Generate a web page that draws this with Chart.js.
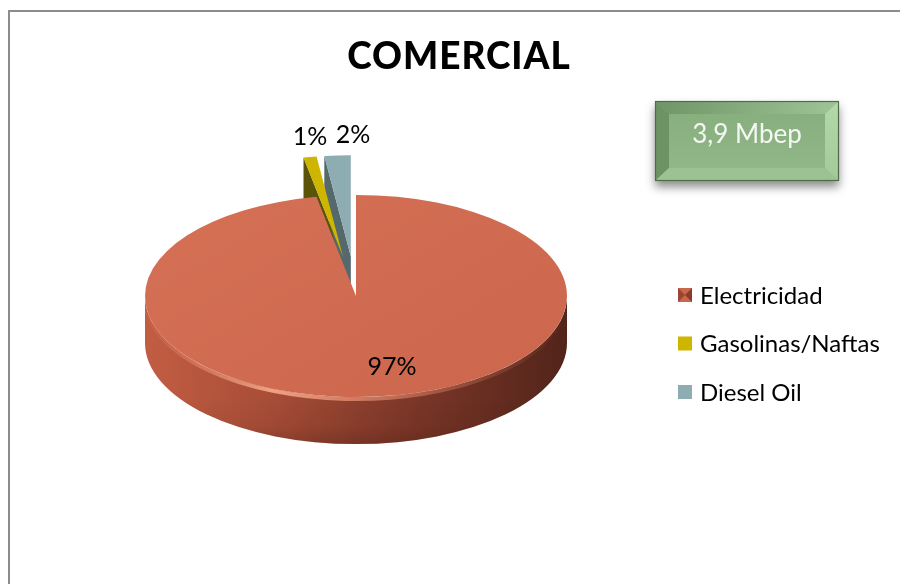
<!DOCTYPE html>
<html>
<head>
<meta charset="utf-8">
<script src="https://cdn.jsdelivr.net/npm/chart.js@4.4.1/dist/chart.umd.min.js"></script>
<style>
  html, body { margin: 0; padding: 0; background: #ffffff; overflow: hidden; width: 900px; height: 584px; }
  #wrap { width: 900px; height: 584px; position: relative; overflow: hidden; }
  #frame { position: absolute; left: 8px; top: 10px; width: 1000px; height: 1000px;
           border-left: 2px solid #8c8c8c; border-top: 2px solid #8c8c8c; pointer-events: none; }
  #c { position: absolute; left: 0; top: 0; }
</style>
</head>
<body>
<div id="wrap"><canvas id="c" width="900" height="584"></canvas><div id="frame"></div></div>
<script>
// Consumo comercial por fuente
const chartTitle = 'COMERCIAL';
const totalLabel = '3,9 Mbep';
const categories = ['Electricidad', 'Gasolinas/Naftas', 'Diesel Oil'];
const shares = [97, 1, 2];
const topColors = ['#d06a50', '#cdb500', '#8eadb2'];
const faceColors = ['#7a3424', '#5b5309', '#55696d'];
const explodeBy = [0, 83, 83];

// Tilted-disc look
const TILT = 0.479;
const DEPTH = 47;
const FONT = 'Lato, "Open Sans", sans-serif';

// Centre, radius and angles of a slice once it is pulled out of the disc
function arcGeometry(arc, i) {
  const e = explodeBy[i] || 0;
  const half = (arc.startAngle + arc.endAngle) / 2;
  return {
    dx: Math.cos(half) * e, dy: Math.sin(half) * e,
    cx: arc.x + Math.cos(half) * e,
    cy: arc.y + Math.sin(half) * e,
    r: arc.outerRadius,
    a0: arc.startAngle, a1: arc.endAngle, half, offset: e
  };
}

function toScreen(x, y, pivotY) {
  return { x, y: pivotY + (y - pivotY) * TILT };
}

function drawLabels(chart) {
  const ctx = chart.ctx;
  const meta = chart.getDatasetMeta(0);
  const pivotY = meta.data[0].y;
  const total = shares.reduce((a, b) => a + b, 0);
  ctx.save();
  ctx.font = '25px ' + FONT;
  ctx.fillStyle = '#000000';
  ctx.textAlign = 'center';
  ctx.textBaseline = 'alphabetic';
  const outside = [];
  meta.data.forEach((arc, i) => {
    const g = arcGeometry(arc, i);
    const text = Math.round(shares[i] / total * 100) + '%';
    if (g.offset > 0) {
      const p = toScreen(g.cx + g.r * Math.cos(g.half), g.cy + g.r * Math.sin(g.half), pivotY);
      outside.push({ text, x: p.x, y: p.y - 12 });
    } else {
      const p = toScreen(g.cx + g.r * 0.7 * Math.cos(g.half), g.cy + g.r * 0.7 * Math.sin(g.half), pivotY);
      ctx.fillText(text, p.x + 22, p.y + 9);
    }
  });
  // keep neighbouring outside labels apart
  outside.sort((a, b) => a.x - b.x);
  const minGap = 43;
  for (let k = 1; k < outside.length; k++) {
    if (outside[k].x - outside[k - 1].x < minGap) outside[k].x = outside[k - 1].x + minGap;
  }
  outside.forEach(l => ctx.fillText(l.text, l.x, l.y));
  ctx.restore();
}

const disc3d = {
  id: 'disc3d',
  beforeDatasetsDraw(chart) {
    const ctx = chart.ctx;
    const meta = chart.getDatasetMeta(0);
    const pivotY = meta.data[0].y;
    ctx.save();
    // cut faces of the slices
    meta.data.forEach((arc, i) => {
      const g = arcGeometry(arc, i);
      const c = toScreen(g.cx, g.cy, pivotY);
      const edges = [];
      if (Math.cos(g.a0) < -1e-6) edges.push(g.a0);
      if (Math.cos(g.a1) > 1e-6) edges.push(g.a1);
      edges.forEach(t => {
        const rx = c.x + g.r * Math.cos(t);
        const ry = c.y + g.r * TILT * Math.sin(t);
        ctx.beginPath();
        ctx.moveTo(c.x, c.y);
        ctx.lineTo(rx, ry);
        ctx.lineTo(rx, ry + DEPTH);
        ctx.lineTo(c.x, c.y + DEPTH);
        ctx.closePath();
        ctx.fillStyle = faceColors[i];
        ctx.fill();
      });
    });
    // front walls
    meta.data.forEach((arc, i) => {
      const g = arcGeometry(arc, i);
      const c = toScreen(g.cx, g.cy, pivotY);
      for (let n = -1; n <= 1; n++) {
        const lo = Math.max(g.a0, 2 * Math.PI * n);
        const hi = Math.min(g.a1, 2 * Math.PI * n + Math.PI);
        if (hi <= lo) continue;
        const grad = ctx.createLinearGradient(c.x - g.r, 0, c.x + g.r, 0);
        if (i === 0) {
          grad.addColorStop(0, '#c25d43');
          grad.addColorStop(0.3, '#a84d37');
          grad.addColorStop(0.65, '#7a3627');
          grad.addColorStop(1, '#52241a');
        } else {
          grad.addColorStop(0, faceColors[i]);
          grad.addColorStop(1, faceColors[i]);
        }
        ctx.beginPath();
        ctx.ellipse(c.x, c.y, g.r, g.r * TILT, 0, lo, hi, false);
        ctx.ellipse(c.x, c.y + DEPTH, g.r, g.r * TILT, 0, hi, lo, true);
        ctx.closePath();
        ctx.fillStyle = grad;
        ctx.fill();
        // darker base of the wall
        const shade = ctx.createLinearGradient(0, c.y + g.r * TILT, 0, c.y + g.r * TILT + DEPTH);
        shade.addColorStop(0, 'rgba(0,0,0,0)');
        shade.addColorStop(0.6, 'rgba(40,10,5,0.06)');
        shade.addColorStop(1, 'rgba(40,10,5,0.22)');
        ctx.fillStyle = shade;
        ctx.fill();
        // soft light along the upper rim of the wall
        const hl = ctx.createLinearGradient(c.x - g.r, 0, c.x + g.r, 0);
        hl.addColorStop(0, 'rgba(240,150,120,0.05)');
        hl.addColorStop(0.3, 'rgba(248,170,140,0.9)');
        hl.addColorStop(0.6, 'rgba(235,145,115,0.55)');
        hl.addColorStop(1, 'rgba(200,110,80,0.0)');
        ctx.beginPath();
        ctx.ellipse(c.x, c.y + 2, g.r, g.r * TILT, 0, lo + 0.05, hi - 0.05, false);
        ctx.strokeStyle = hl;
        ctx.lineWidth = 4;
        ctx.stroke();
      }
    });
    ctx.restore();
    // top faces: each arc element draws itself on the squashed, pulled-out plane
    meta.data.forEach((arc, i) => {
      const g = arcGeometry(arc, i);
      ctx.save();
      ctx.translate(0, pivotY);
      ctx.scale(1, TILT);
      ctx.translate(g.dx, g.dy - pivotY);
      arc.draw(ctx, chart.chartArea);
      ctx.restore();
    });
    drawLabels(chart);
    return false;
  },
  afterDraw(chart) {
    const ctx = chart.ctx;
    ctx.save();
    // title
    ctx.font = '900 37px ' + FONT;
    ctx.letterSpacing = '1px';
    ctx.fillStyle = '#000000';
    ctx.textAlign = 'center';
    ctx.textBaseline = 'alphabetic';
    ctx.fillText(chartTitle, 459, 69);
    ctx.letterSpacing = '0px';

    // bevelled total box
    const bx = 655, by = 101, bw = 184, bh = 80, bev = 14;
    ctx.save();
    ctx.shadowColor = 'rgba(0,0,0,0.45)';
    ctx.shadowBlur = 9;
    ctx.shadowOffsetY = 6;
    ctx.fillStyle = '#86ad7d';
    ctx.fillRect(bx, by, bw, bh);
    ctx.restore();
    const inner = ctx.createLinearGradient(0, by, 0, by + bh);
    inner.addColorStop(0, '#86ad7c');
    inner.addColorStop(1, '#93b88a');
    ctx.fillStyle = inner;
    ctx.fillRect(bx, by, bw, bh);
    const quad = (pts, fill) => {
      ctx.beginPath();
      ctx.moveTo(pts[0][0], pts[0][1]);
      for (let q = 1; q < pts.length; q++) ctx.lineTo(pts[q][0], pts[q][1]);
      ctx.closePath();
      ctx.fillStyle = fill;
      ctx.fill();
    };
    const L = bx, T = by, R = bx + bw, B = by + bh;
    const topG = ctx.createLinearGradient(L, 0, R, 0);
    topG.addColorStop(0, '#6f9566');
    topG.addColorStop(1, '#9fc596');
    quad([[L, T], [R, T], [R - bev, T + bev - 1], [L + bev, T + bev - 1]], topG);
    quad([[L, T], [L + bev, T + bev - 1], [L + bev, B - bev + 1], [L, B]], '#6d9364');
    const rightG = ctx.createLinearGradient(0, T, 0, B);
    rightG.addColorStop(0, '#b3d9aa');
    rightG.addColorStop(1, '#a2c999');
    quad([[R, T], [R, B], [R - bev, B - bev + 1], [R - bev, T + bev - 1]], rightG);
    quad([[L, B], [L + bev, B - bev + 1], [R - bev, B - bev + 1], [R, B]], '#9cc293');
    ctx.strokeStyle = '#4f6b49';
    ctx.lineWidth = 1.2;
    ctx.strokeRect(bx + 0.5, by + 0.5, bw - 1, bh - 1);
    ctx.font = '26px ' + FONT;
    ctx.fillStyle = '#f4f8f2';
    ctx.textAlign = 'center';
    ctx.textBaseline = 'middle';
    ctx.fillText(totalLabel, bx + bw / 2, by + bh / 2 - 6);

    // legend
    ctx.font = '24px ' + FONT;
    ctx.textAlign = 'left';
    ctx.textBaseline = 'middle';
    categories.forEach((name, i) => {
      const y = 295 + i * 48.5;
      const s = 14, x = 678;
      if (i === 0) {
        ctx.fillStyle = '#c9664c';
        ctx.fillRect(x, y - s / 2, s, s);
        quad([[x, y - s / 2], [x + s / 2, y], [x, y + s / 2]], '#9a4531');
        quad([[x + s, y - s / 2], [x + s / 2, y], [x + s, y + s / 2]], '#8a3b29');
      } else {
        ctx.fillStyle = topColors[i];
        ctx.fillRect(x, y - s / 2, s, s);
      }
      ctx.fillStyle = '#000000';
      ctx.fillText(name, 700, y + 1);
    });
    ctx.restore();
  }
};

new Chart(document.getElementById('c'), {
  type: 'pie',
  data: {
    labels: categories,
    datasets: [{
      data: shares,
      backgroundColor: (context) => {
        const i = context.dataIndex;
        if (i !== 0 || !context.chart.chartArea) return topColors[i];
        const a = context.chart.chartArea;
        const g = context.chart.ctx.createLinearGradient(a.left, a.top, a.right, a.bottom);
        g.addColorStop(0, '#d77357');
        g.addColorStop(1, '#c9644b');
        return g;
      },
      borderWidth: 0,
      clip: false
    }]
  },
  options: {
    responsive: false,
    animation: false,
    radius: 211,
    layout: { padding: { left: 0, right: 188, top: 8, bottom: 0 } },
    plugins: {
      legend: { display: false },
      tooltip: { enabled: false },
      title: { display: false }
    },
    events: []
  },
  plugins: [disc3d]
});
</script>
</body>
</html>
